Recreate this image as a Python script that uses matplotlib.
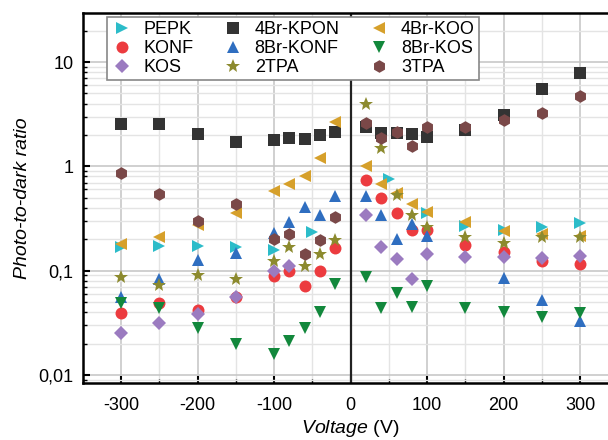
import matplotlib
matplotlib.use("Agg")
import matplotlib.pyplot as plt
from matplotlib.ticker import FixedLocator, FixedFormatter, LogLocator, NullFormatter, MultipleLocator

plt.rcParams['font.family'] = ['Liberation Sans', 'DejaVu Sans']
plt.rcParams['mathtext.fontset'] = 'custom'
plt.rcParams['mathtext.it'] = 'Liberation Sans:italic'
plt.rcParams['mathtext.rm'] = 'Liberation Sans'

# ---------------- data ----------------
v_all = [-300, -250, -200, -150, -100, -80, -60, -40, -20,
         20, 40, 60, 80, 100, 150, 200, 250, 300]

pepk_x = [-300, -250, -200, -150, -100, -50, 50, 100, 150, 200, 250, 300]
pepk_y = [0.17, 0.174, 0.174, 0.17, 0.157, 0.237, 0.75, 0.36, 0.27, 0.246, 0.265, 0.285]

konf_x = v_all
konf_y = [0.039, 0.0485, 0.042, 0.056, 0.0895, 0.10, 0.071, 0.10, 0.165,
          0.745, 0.50, 0.356, 0.248, 0.248, 0.178, 0.15, 0.123, 0.116]

kos_x = [-300, -250, -200, -150, -100, -80, 20, 40, 60, 80, 100, 150, 200, 250, 300]
kos_y = [0.0254, 0.0318, 0.0383, 0.0554, 0.10, 0.112,
         0.338, 0.168, 0.128, 0.083, 0.143, 0.136, 0.136, 0.133, 0.139]

kpon_x = v_all
kpon_y = [2.54, 2.54, 2.05, 1.73, 1.79, 1.86, 1.82, 1.99, 2.12,
          2.39, 2.09, 2.1, 2.03, 1.89, 2.22, 3.09, 5.5, 7.8]

br8konf_x = [-300, -250, -200, -150, -100, -80, -60, -40, -20,
             20, 40, 60, 80, 100, 200, 250, 300]
br8konf_y = [0.0554, 0.083, 0.127, 0.147, 0.23, 0.29, 0.41, 0.34, 0.52,
             0.52, 0.338, 0.20, 0.28, 0.217, 0.0843, 0.0526, 0.033]

tpa2_x = v_all
tpa2_y = [0.0862, 0.073, 0.0916, 0.083, 0.125, 0.167, 0.112, 0.145, 0.197,
          4.0, 1.5, 0.53, 0.338, 0.26, 0.21, 0.183, 0.209, 0.212]

koo_x = v_all
koo_y = [0.18, 0.212, 0.272, 0.36, 0.58, 0.68, 0.80, 1.21, 2.67,
         1.0, 0.68, 0.55, 0.44, 0.364, 0.29, 0.239, 0.225, 0.217]

br8kos_x = v_all
br8kos_y = [0.0485, 0.0438, 0.028, 0.02, 0.016, 0.0212, 0.028, 0.0406, 0.0745,
            0.0875, 0.0438, 0.061, 0.045, 0.071, 0.0434, 0.0398, 0.036, 0.0389]

tpa3_x = v_all
tpa3_y = [0.86, 0.54, 0.30, 0.44, 0.20, 0.225, 0.145, 0.197, 0.33,
          2.63, 1.85, 2.14, 1.58, 2.36, 2.39, 2.81, 3.21, 4.7]

x_ticks = [-300, -200, -100, 0, 100, 200, 300]
x_tick_labels = ['-300', '-200', '-100', '0', '100', '200', '300']
y_ticks = [0.01, 0.1, 1, 10]
y_tick_labels = ['0,01', '0,1', '1', '10']

# ---------------- figure ----------------
fig = plt.figure(figsize=(6.08, 4.40), dpi=100)
ax = fig.add_axes([83 / 608, 57 / 440, (618.3 - 83) / 608, 370 / 440])
ax.set_yscale('log')
ax.set_xlim(-350, 350)
ax.set_ylim(0.00838, 29.5)

# grid
ax.xaxis.set_major_locator(FixedLocator(x_ticks))
ax.xaxis.set_major_formatter(FixedFormatter(x_tick_labels))
ax.xaxis.set_minor_locator(MultipleLocator(50))
ax.yaxis.set_major_locator(FixedLocator(y_ticks))
ax.yaxis.set_major_formatter(FixedFormatter(y_tick_labels))
ax.yaxis.set_minor_locator(LogLocator(base=10, subs=range(2, 10)))
ax.yaxis.set_minor_formatter(NullFormatter())
ax.grid(True, which='major', color='#c4c4c4', lw=1.1, zorder=0)
ax.grid(True, which='minor', color='#e4e4e4', lw=1.0, zorder=0)
ax.set_axisbelow(True)

ax.axvline(0, color='#222222', lw=1.6, zorder=1)

ms = 8.6
series = [
    ('PEPK', pepk_x, pepk_y, '>', '#2cbcc9', ms + 0.5),
    ('4Br-KPON', kpon_x, kpon_y, 's', '#333333', ms - 0.4),
    ('4Br-KOO', koo_x, koo_y, '<', '#d6a02b', ms + 0.5),
    ('KONF', konf_x, konf_y, 'o', '#ec3b3f', ms),
    ('8Br-KONF', br8konf_x, br8konf_y, '^', '#2f6ec0', ms + 0.5),
    ('8Br-KOS', br8kos_x, br8kos_y, 'v', '#12883c', ms + 0.5),
    ('KOS', kos_x, kos_y, 'D', '#9b7bc0', ms - 1.3),
    ('2TPA', tpa2_x, tpa2_y, '*', '#8c8a2e', ms + 2),
    ('3TPA', tpa3_x, tpa3_y, 'h', '#7a4848', ms + 0.5),
]
handles = {}
for name, xs, ys, mk, col, s in series:
    h, = ax.plot(xs, ys, linestyle='none', marker=mk, color=col,
                 markersize=s, markeredgewidth=0, label=name, zorder=3)
    handles[name] = h

order = ['PEPK', 'KONF', 'KOS', '4Br-KPON', '8Br-KONF', '2TPA',
         '4Br-KOO', '8Br-KOS', '3TPA']
leg = ax.legend([handles[n] for n in order], order, ncol=3,
                loc='upper left', bbox_to_anchor=(0.045, 0.988),
                fontsize=13, frameon=True, fancybox=False,
                edgecolor='#888888', framealpha=1,
                handlelength=1.2, handletextpad=0.6, columnspacing=1.6,
                labelspacing=0.12, borderpad=0.2, borderaxespad=0)
leg.get_frame().set_linewidth(1.2)

for sp in ax.spines.values():
    sp.set_linewidth(1.8)
    sp.set_color('black')

ax.tick_params(which='major', direction='in', length=5, width=1.5,
               labelsize=13)
ax.tick_params(axis='x', which='major', pad=10)
ax.tick_params(axis='y', which='major', pad=7)
ax.tick_params(which='minor', direction='in', length=3, width=1.0)
ax.tick_params(axis='x', which='both', top=False)
ax.tick_params(axis='y', which='both', right=False)

ax.set_xlabel(r'$\it{Voltage}$ (V)', fontsize=14, labelpad=3)
ax.set_ylabel('Photo-to-dark ratio', fontsize=14, style='italic', labelpad=5)

fig.savefig('out.png', dpi=100)
